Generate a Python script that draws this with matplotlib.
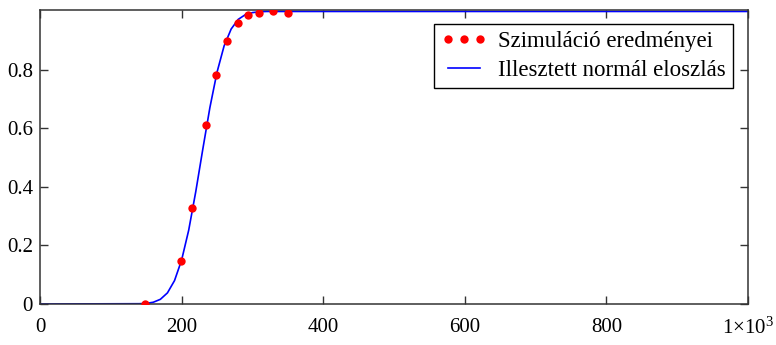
import matplotlib.pyplot as plt

plt.rcParams['font.family'] = ['Liberation Serif', 'DejaVu Serif']
plt.rcParams['mathtext.fontset'] = 'custom'
plt.rcParams['mathtext.rm'] = 'Liberation Serif'

# Szimuláció eredményei (pontok)
sim_x = [148, 199, 214, 235, 249, 264, 280, 294, 309, 329, 350]
sim_y = [0.0, 0.147, 0.327, 0.611, 0.784, 0.899, 0.960, 0.987, 0.996, 1.0, 0.996]

# Illesztett normál eloszlás (leolvasott görbe)
fit_x = [0, 140, 150, 160, 170, 180, 190, 200, 210, 220, 230, 240,
         250, 260, 270, 280, 290, 300, 310, 320, 1000]
fit_y = [0.0, 0.001, 0.002, 0.006, 0.016, 0.038, 0.080, 0.150, 0.252, 0.384,
         0.530, 0.672, 0.792, 0.882, 0.940, 0.973, 0.989, 0.996, 0.999, 1.0, 1.0]

x_ticks = [0, 200, 400, 600, 800, 1000]
x_labels = ['0', '200', '400', '600', '800', r'$\mathrm{1{\times}10^{3}}$']
y_ticks = [0, 0.2, 0.4, 0.6, 0.8]
y_labels = ['0', '0.2', '0.4', '0.6', '0.8']

fig = plt.figure(figsize=(7.76, 3.45), dpi=100)
ax = fig.add_axes([40 / 776, 1 - 304 / 345, 708 / 776, 294 / 345])

ax.plot(sim_x, sim_y, 'o', color='#ff0000', markersize=6, markeredgewidth=0,
        label='Szimuláció eredményei', zorder=3)
ax.plot(fit_x, fit_y, '-', color='#0000ff', linewidth=1.2,
        label='Illesztett normál eloszlás', zorder=2)

ax.set_xlim(0, 1000)
ax.set_ylim(0, 1.005)
ax.set_xticks(x_ticks)
ax.set_xticklabels(x_labels)
ax.set_yticks(y_ticks)
ax.set_yticklabels(y_labels)
ax.tick_params(direction='in', length=6, width=1, colors='#333333',
               labelcolor='black', labelsize=15, top=True, right=True)
ax.tick_params(axis='x', pad=10)
ax.tick_params(axis='y', pad=5)
for s in ax.spines.values():
    s.set_color('#333333')
    s.set_linewidth(1.1)

# jelmagyarázat a jobb felső sarokban
leg = ax.legend(loc='upper right', bbox_to_anchor=((733 - 40) / 708, (304 - 24) / 294),
                bbox_transform=ax.transAxes, numpoints=3, fontsize=16.5,
                fancybox=False, framealpha=1, edgecolor='black',
                handlelength=2.0, handletextpad=0.5, borderpad=0.3,
                labelspacing=0.35, borderaxespad=0)
leg.get_frame().set_linewidth(1.0)

plt.savefig('out.png', dpi=100)
